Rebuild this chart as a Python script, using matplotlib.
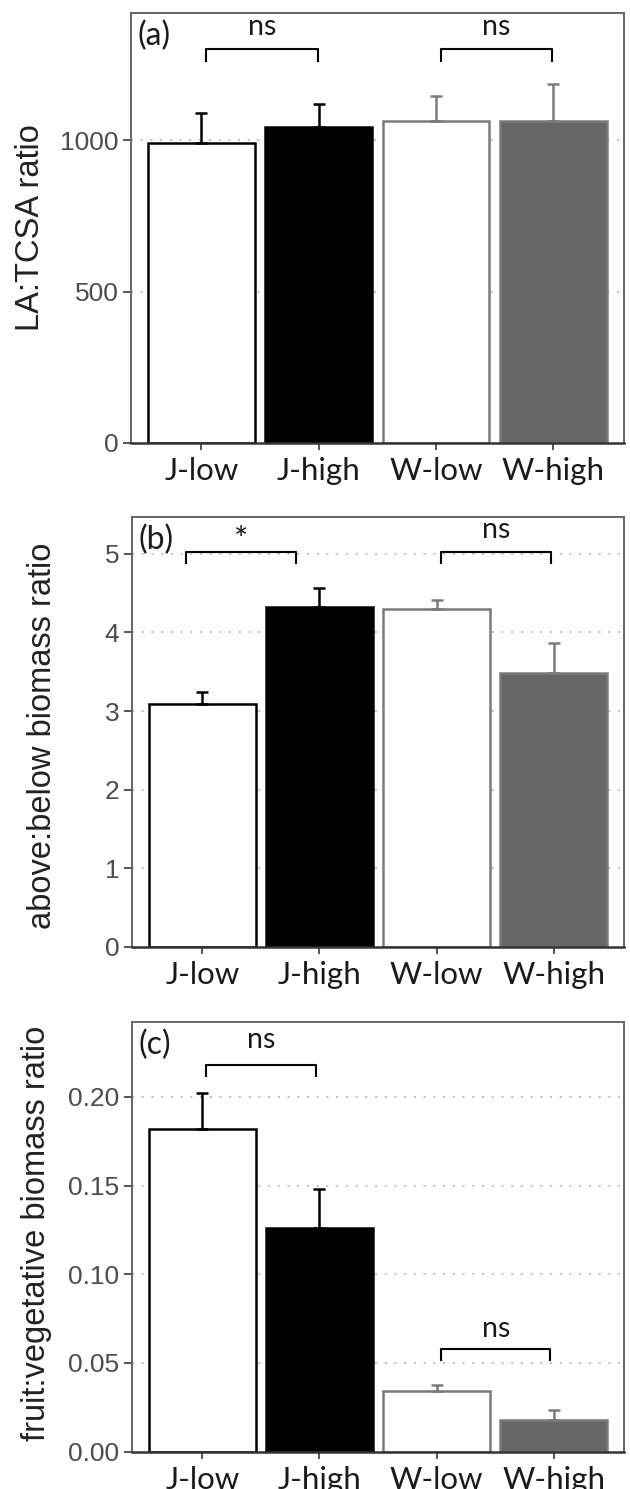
import numpy as np
import matplotlib
matplotlib.use('Agg')
import matplotlib.pyplot as plt

# ── Data ──────────────────────────────────────────────────────────────────────
groups = ['J-low', 'J-high', 'W-low', 'W-high']

la_tcsa      = [992, 1045, 1063, 1065]
la_tcsa_err  = [99, 75, 84, 121]

above_below     = [3.09, 4.32, 4.30, 3.48]
above_below_err = [0.15, 0.25, 0.11, 0.39]

fruit_veg     = [0.182, 0.126, 0.034, 0.018]
fruit_veg_err = [0.020, 0.022, 0.0035, 0.0055]

# ── Styles ────────────────────────────────────────────────────────────────────
fills  = ['white', 'black', 'white', '#666666']
edges  = ['black', 'black', '#7a7a7a', '#7a7a7a']
ecols  = ['black', 'black', '#7a7a7a', '#7a7a7a']

TICK_FONT = ['Liberation Sans', 'DejaVu Sans']
TEXT_FONT = ['Lato', 'DejaVu Sans']

fig = plt.figure(figsize=(6.3, 14.89), dpi=100)


def panel(rect, vals, errs, ylim, yticks, yfmt, ylabel, tag, brackets):
    ax = fig.add_axes(rect)
    x = np.arange(len(groups))
    ax.set_xlim(-0.6, 3.6)
    ax.set_ylim(*ylim)

    for yt in yticks[1:]:
        ax.axhline(yt, color='#bdbdbd', lw=1.4, ls=(0, (1, 4)), zorder=0)

    ax.bar(x, vals, width=0.91, color=fills, edgecolor=edges, lw=1.8, zorder=2)
    for xi, v, e, c in zip(x, vals, errs, ecols):
        ax.errorbar(xi, v, yerr=[[0], [e]], fmt='none', ecolor=c,
                    elinewidth=1.8, capsize=4, capthick=1.8, zorder=3)

    ax.set_yticks(yticks)
    ax.set_yticklabels([yfmt.format(t) for t in yticks],
                       fontsize=19, color='#4d4d4d', family=TICK_FONT)
    ax.set_xticks(x)
    ax.set_xticklabels(groups, fontsize=22.5, color='#1a1a1a', family=TEXT_FONT)
    ax.tick_params(axis='y', length=6, width=1.4, color='#555555', pad=3)
    ax.tick_params(axis='x', length=5, width=1.4, color='#555555', pad=5)
    for s in ax.spines.values():
        s.set_color('#666666')
        s.set_linewidth(1.4)
    ax.spines['bottom'].set_color('#333333')
    ax.spines['bottom'].set_linewidth(1.8)

    ax.set_ylabel(ylabel, fontsize=23.5, color='#222222', family=TICK_FONT)
    ax.text(0.014, 0.982, tag, transform=ax.transAxes, va='top', ha='left',
            fontsize=23, color='#1a1a1a', family=TEXT_FONT)

    # significance brackets: (x0, x1, y_top, tip_drop, label, label_y)
    for x0, x1, yt, drop, lab, ly in brackets:
        ax.plot([x0, x0, x1, x1], [yt - drop, yt, yt, yt - drop],
                color='black', lw=1.5, zorder=4, clip_on=False)
        if lab == '*':
            ax.text((x0 + x1) / 2, ly, lab, ha='center', va='center',
                    fontsize=24, family=TEXT_FONT, color='#1a1a1a')
        else:
            ax.text((x0 + x1) / 2, ly, lab, ha='center', va='baseline',
                    fontsize=20.5, family=TEXT_FONT, color='#1a1a1a')
    return ax


ax_a = panel([0.208, 0.7025, 0.782, 0.2888], la_tcsa, la_tcsa_err,
             (0, 1421), [0, 500, 1000], '{:.0f}', 'LA:TCSA ratio', '(a)',
             [(0.04, 0.99, 1302, 40, 'ns', 1348),
              (2.04, 2.99, 1302, 40, 'ns', 1348)])
ax_a.yaxis.set_label_coords(-0.172, 0.5)

ax_b = panel([0.2095, 0.3642, 0.781, 0.2886], above_below, above_below_err,
             (0, 5.47), [0, 1, 2, 3, 4, 5], '{:.0f}',
             'above:below biomass ratio', '(b)',
             [(-0.14, 0.80, 5.03, 0.14, '*', 5.16),
              (2.04, 2.98, 5.03, 0.14, 'ns', 5.2)])
ax_b.yaxis.set_label_coords(-0.15, 0.49)

ax_c = panel([0.2095, 0.0251, 0.781, 0.2887], fruit_veg, fruit_veg_err,
             (0, 0.2423), [0, 0.05, 0.10, 0.15, 0.20], '{:.2f}',
             'fruit:vegetative biomass ratio', '(c)',
             [(0.03, 0.97, 0.2179, 0.006, 'ns', 0.2273),
              (2.04, 2.97, 0.0579, 0.006, 'ns', 0.0648)])
ax_c.yaxis.set_label_coords(-0.162, 0.508)

fig.savefig('out.png', dpi=100)
